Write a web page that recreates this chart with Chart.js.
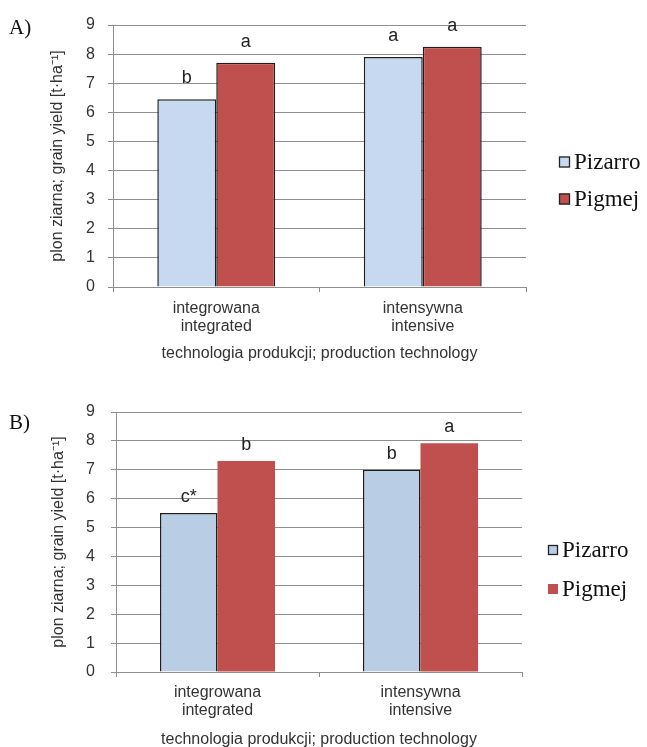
<!DOCTYPE html>
<html>
<head>
<meta charset="utf-8">
<script src="https://cdn.jsdelivr.net/npm/chart.js@4/dist/chart.umd.min.js"></script>
<style>
  html, body { margin: 0; padding: 0; background: #fff; overflow: hidden; }
  #wrap { position: relative; width: 647px; height: 747px; overflow: hidden; background: #fff; }
  .panel { position: absolute; left: 0; width: 647px; }
  .tag { position: absolute; left: 9px; font: 21px 'Liberation Serif', 'Times New Roman', serif; color: #111; line-height: 24px; }
</style>
</head>
<body>
<div id="wrap">
  <div class="panel" style="top:0;height:375px"><canvas id="chartA" width="647" height="375"></canvas></div>
  <div class="panel" style="top:380px;height:385px"><canvas id="chartB" width="647" height="385"></canvas></div>
  <div class="tag" style="top:15px">A)</div>
  <div class="tag" style="top:410px">B)</div>
</div>
<script>
const categories = [['integrowana', 'integrated'], ['intensywna', 'intensive']]
const seriesNames = ['Pizarro', 'Pigmej']
const yTitle = 'plon ziarna; grain yield [t·ha⁻¹]'
const xTitle = 'technologia produkcji; production technology'

// panel A
const pizarroA = [6.45, 7.9]
const pigmejA = [7.7, 8.25]
const lettersPizarroA = ['b', 'a']
const lettersPigmejA = ['a', 'a']

// panel B
const pizarroB = [5.5, 7.0]
const pigmejB = [7.3, 7.92]
const lettersPizarroB = ['c*', 'b']
const lettersPigmejB = ['b', 'a']

const GRID = '#8e8e8e'
const TEXT = '#333'
const FONT = "'Liberation Sans', Arial, sans-serif"

const letterPlugin = {
  id: 'letters',
  afterDatasetsDraw(chart, args, opts) {
    const ctx = chart.ctx
    ctx.save()
    ctx.font = `${opts.size}px ${FONT}`
    ctx.fillStyle = '#222'
    ctx.textAlign = 'center'
    ctx.textBaseline = 'middle'
    chart.data.datasets.forEach((ds, i) => {
      chart.getDatasetMeta(i).data.forEach((bar, j) => {
        ctx.fillText(ds.letters[j], bar.x, bar.y - opts.gap)
      })
    })
    ctx.restore()
  },
}

const sideLegend = {
  id: 'sideLegend',
  afterDraw(chart, args, opts) {
    const ctx = chart.ctx
    ctx.save()
    ctx.font = `${opts.size}px 'Liberation Serif', 'Times New Roman', serif`
    ctx.textBaseline = 'middle'
    chart.data.datasets.forEach((ds, i) => {
      const y = opts.ys[i]
      ctx.fillStyle = ds.backgroundColor
      ctx.fillRect(opts.x, y - opts.box / 2, opts.box, opts.box)
      if (opts.bordered[i]) {
        ctx.strokeStyle = '#222'
        ctx.lineWidth = 1.3
        ctx.strokeRect(opts.x + 0.5, y - opts.box / 2 + 0.5, opts.box - 1, opts.box - 1)
      }
      ctx.fillStyle = '#111'
      ctx.fillText(ds.label, opts.x + opts.box + 4, y + 1)
    })
    ctx.restore()
  },
}

function makeChart(id, values, letters, look) {
  const ctx = document.getElementById(id).getContext('2d')
  const datasets = seriesNames.map((name, i) => ({
    label: name,
    data: values[i],
    letters: letters[i],
    backgroundColor: look.colors[i],
    borderColor: '#1e1e1e',
    borderWidth: look.borders[i],
    borderSkipped: 'bottom',
    barPercentage: 1,
    categoryPercentage: look.catPct,
  }))

  return new Chart(ctx, {
    type: 'bar',
    data: { labels: categories, datasets },
    plugins: [letterPlugin, sideLegend],
    options: {
      responsive: false,
      animation: false,
      layout: { padding: { top: look.top, right: look.right, left: 0, bottom: 0 } },
      plugins: {
        legend: { display: false },
        tooltip: { enabled: false },
        letters: { size: 18, gap: look.gap },
        sideLegend: look.legend,
      },
      scales: {
        x: {
          afterFit: (s) => { s.height = look.xHeight },
          grid: { drawOnChartArea: false, color: GRID, tickLength: 5, offset: true },
          border: { color: GRID },
          ticks: {
            color: TEXT,
            font: { family: FONT, size: 16, lineHeight: 1.15 },
            padding: look.xPad,
            maxRotation: 0,
          },
          title: {
            display: true,
            text: xTitle,
            color: TEXT,
            font: { family: FONT, size: 16, lineHeight: 1.15 },
            padding: { top: 0, bottom: look.xTitlePad },
          },
        },
        y: {
          min: 0,
          max: 9,
          afterFit: (s) => { s.width = look.yWidth },
          grid: { color: GRID, tickLength: 5 },
          border: { color: GRID },
          ticks: {
            stepSize: 1,
            color: TEXT,
            font: { family: FONT, size: 16 },
            padding: look.yPad,
          },
          title: {
            display: true,
            text: yTitle,
            color: TEXT,
            font: { family: FONT, size: 16, lineHeight: 1.15 },
            padding: { top: look.yTitlePad, bottom: 0 },
          },
        },
      },
    },
  })
}

makeChart('chartA', [pizarroA, pigmejA], [lettersPizarroA, lettersPigmejA], {
  colors: ['#C6D9F1', '#C0504D'],
  borders: [1.5, 1.5],
  catPct: 0.571,
  top: 25,
  right: 121,
  xHeight: 88,
  yWidth: 113,
  xPad: 7,
  xTitlePad: 12,
  yPad: 13,
  yTitlePad: 48,
  gap: 21,
  legend: { x: 559, ys: [162, 199], box: 11, size: 23, bordered: [true, true] },
})

makeChart('chartB', [pizarroB, pigmejB], [lettersPizarroB, lettersPigmejB], {
  colors: ['#B9CDE5', '#C0504D'],
  borders: [1.5, 0],
  catPct: 0.567,
  top: 32,
  right: 125,
  xHeight: 93,
  yWidth: 116,
  xPad: 6,
  xTitlePad: 16,
  yPad: 16,
  yTitlePad: 49,
  gap: 16,
  legend: { x: 548, ys: [170, 209], box: 10, size: 23, bordered: [true, false] },
})
</script>
</body>
</html>
